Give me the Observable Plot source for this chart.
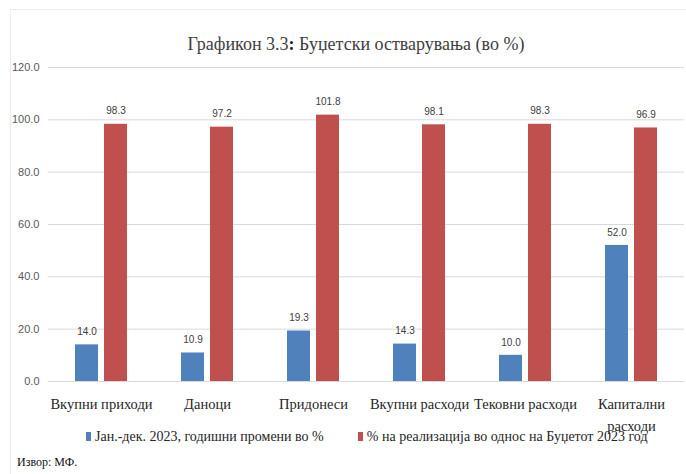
<!DOCTYPE html>
<html>
<head>
<meta charset="utf-8">
<script src="https://cdn.jsdelivr.net/npm/d3@7"></script>
<script src="https://cdn.jsdelivr.net/npm/@observablehq/plot@0.6"></script>
<style>
  html, body { margin: 0; padding: 0; background: #fff; }
  #page { position: relative; width: 686px; height: 474px; overflow: hidden; background: #fff; }
  #box { position: absolute; left: 10px; top: 9px; width: 700px; height: 500px; border-left: 1px solid #ececec; border-top: 1px solid #ececec; }
  #title { position: absolute; left: 0; top: 34px; width: 712px; text-align: center; font-family: "Liberation Serif", serif; font-size: 18px; color: #404040; white-space: nowrap; }
  #title b { color: #222; }
  #chart { position: absolute; left: 0; top: 50px; }
  #legend { position: absolute; left: 86px; top: 420px; width: 600px; }
  #legend .lg-swatches { font-family: "Liberation Serif", serif !important; font-size: 14px !important; color: #262626 !important; flex-wrap: nowrap !important; white-space: nowrap; }
  .lg-swatch { margin-right: 34px !important; }
  .lg-swatch > svg { margin-right: 4px !important; }
  #source { position: absolute; left: 17px; top: 455px; font-family: "Liberation Serif", serif; font-size: 12px; color: #111; }
</style>
</head>
<body>
<div id="page">
  <div id="box"></div>
  <div id="title">Графикон 3.3<b>:</b> Буџетски остварувања (во %)</div>
  <div id="chart"></div>
  <div id="legend"></div>
  <div id="source">Извор: МФ.</div>
</div>
<script>
const categories = ["Вкупни приходи", "Даноци", "Придонеси", "Вкупни расходи", "Тековни расходи", "Капитални расходи"];
const tickLabels = ["Вкупни приходи", "Даноци", "Придонеси", "Вкупни расходи", "Тековни расходи", "Капитални\nрасходи"];
const series = ["Јан.-дек. 2023, годишни промени во %", "% на реализација во однос на Буџетот 2023  год"];
const annualChange = [14.0, 10.9, 19.3, 14.3, 10.0, 52.0];
const realization = [98.3, 97.2, 101.8, 98.1, 98.3, 96.9];
const yTicks = [0, 20, 40, 60, 80, 100, 120];
const colors = ["#4F81BD", "#C0504D"];

const data = categories.flatMap((c, i) => [
  {category: c, series: series[0], value: annualChange[i]},
  {category: c, series: series[1], value: realization[i]}
]);

const chart = Plot.plot({
  width: 686,
  height: 390,
  marginTop: 17,
  marginBottom: 59,
  marginLeft: 48,
  marginRight: 2,
  style: {background: "transparent"},
  fx: {domain: categories, padding: 0, label: null, axis: null},
  x: {domain: series, paddingInner: 0.2, paddingOuter: 0.867, axis: null},
  y: {domain: [0, 120], axis: null},
  color: {domain: series, range: colors},
  marks: [
    Plot.gridY(yTicks, {stroke: "#d9d9d9", strokeOpacity: 1, strokeWidth: 1}),
    Plot.axisY(yTicks, {
      tickSize: 0, tickPadding: 9, tickFormat: d => d.toFixed(1),
      fontSize: 11, fill: "#595959", fontFamily: "Liberation Sans, sans-serif", label: null
    }),
    Plot.axisFx({
      anchor: "bottom",
      tickSize: 0, tickPadding: 12, label: null,
      tickFormat: d => tickLabels[categories.indexOf(d)],
      fontSize: 14.5, lineHeight: 1.52, fill: "#262626", fontFamily: "Liberation Serif, serif"
    }),
    Plot.barY(data, {fx: "category", x: "series", y: "value", fill: "series"}),
    Plot.text(data, {
      fx: "category", x: "series", y: "value", text: d => d.value.toFixed(1),
      dy: -13, fontSize: 10, fill: "#404040", fontFamily: "Liberation Sans, sans-serif"
    })
  ]
});
document.getElementById("chart").appendChild(chart);

const legend = Plot.legend({
  color: {domain: series, range: colors},
  swatchWidth: 5,
  swatchHeight: 9,
  className: "lg"
});
document.getElementById("legend").appendChild(legend);
</script>
</body>
</html>
